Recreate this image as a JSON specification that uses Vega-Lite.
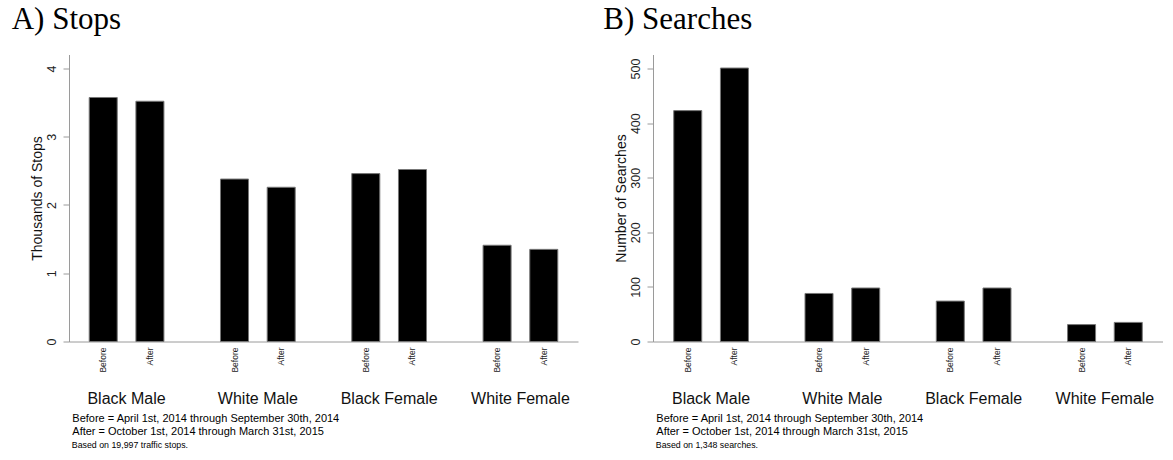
{
  "$schema": "https://vega.github.io/schema/vega-lite/v6.json",
  "background": "white",
  "padding": {"left": 11, "top": 3.5, "right": 0, "bottom": 0},
  "autosize": {"type": "pad"},
  "datasets": {
    "stops": [
      {"group": "Black Male", "period": "Before", "value": 3.575},
      {"group": "Black Male", "period": "After", "value": 3.52},
      {"group": "White Male", "period": "Before", "value": 2.38},
      {"group": "White Male", "period": "After", "value": 2.26},
      {"group": "Black Female", "period": "Before", "value": 2.46},
      {"group": "Black Female", "period": "After", "value": 2.52},
      {"group": "White Female", "period": "Before", "value": 1.41},
      {"group": "White Female", "period": "After", "value": 1.35}
    ],
    "searches": [
      {"group": "Black Male", "period": "Before", "value": 423},
      {"group": "Black Male", "period": "After", "value": 501},
      {"group": "White Male", "period": "Before", "value": 88},
      {"group": "White Male", "period": "After", "value": 98},
      {"group": "Black Female", "period": "Before", "value": 74},
      {"group": "Black Female", "period": "After", "value": 98},
      {"group": "White Female", "period": "Before", "value": 31},
      {"group": "White Female", "period": "After", "value": 35}
    ]
  },
  "config": {
    "view": {"stroke": null},
    "font": "Liberation Sans",
    "axisX": {
      "labelAngle": 0,
      "labelFontSize": 16,
      "labelColor": "#111",
      "labelBaseline": "top",
      "labelPadding": 49,
      "ticks": false,
      "domainColor": "#9a9a9a",
      "domainWidth": 1,
      "titleFontSize": 11,
      "titleFontWeight": "normal",
      "titleColor": "#000",
      "titleAlign": "left",
      "titleBaseline": "top",
      "titleX": 2.8,
      "titleY": 70.5,
      "titleLineHeight": 13.3
    },
    "axisY": {
      "grid": false,
      "format": "d",
      "labelAngle": 270,
      "labelAlign": "center",
      "labelBaseline": "bottom",
      "labelFontSize": 12.5,
      "labelColor": "#222",
      "labelPadding": 5,
      "tickSize": 6,
      "tickColor": "#9a9a9a",
      "domainColor": "#9a9a9a",
      "domainWidth": 1,
      "titleFontSize": 14,
      "titleFontWeight": "normal",
      "titleColor": "#111",
      "titleAngle": 270,
      "titleBaseline": "bottom",
      "titleAlign": "center",
      "titleX": -25
    }
  },
  "spacing": 25,
  "hconcat": [
    {
      "title": {"text": "Based on 19,997 traffic stops.", "orient": "bottom", "anchor": "start", "frame": "group", "font": "Liberation Sans", "fontSize": 8.8, "fontWeight": "normal", "color": "#000", "baseline": "alphabetic", "offset": 11.5, "dx": 2.8},
      "vconcat": [
        {
          "width": 509,
          "height": 287,
          "title": {"text": "A) Stops", "anchor": "start", "frame": "group", "font": "Liberation Serif", "fontSize": 31, "fontWeight": "normal", "color": "#000", "baseline": "alphabetic", "offset": -5.3, "dx": -57.3},
          "data": {"name": "stops"},
          "layer": [
            {
              "mark": {"type": "bar", "color": "#000", "stroke": "#777", "strokeWidth": 1},
              "encoding": {
                "x": {"field": "group", "type": "nominal", "sort": ["Black Male", "White Male", "Black Female", "White Female"], "scale": {"paddingInner": 0.2, "paddingOuter": 0.0385},
                  "axis": {"title": ["Before = April 1st, 2014 through September 30th, 2014", "After = October 1st, 2014 through March 31st, 2015"]}},
                "xOffset": {"field": "period", "type": "nominal", "sort": ["Before", "After"], "scale": {"paddingInner": 0.4, "paddingOuter": 0.3245}},
                "y": {"field": "value", "type": "quantitative", "scale": {"domain": [0, 4.205], "nice": false}, "axis": {"title": "Thousands of Stops", "values": [0, 1, 2, 3, 4]}}
              }
            },
            {
              "mark": {"type": "text", "angle": 270, "align": "right", "baseline": "middle", "dx": -6, "fontSize": 8.5, "color": "#222"},
              "encoding": {
                "x": {"field": "group", "type": "nominal", "sort": ["Black Male", "White Male", "Black Female", "White Female"]},
                "xOffset": {"field": "period", "type": "nominal", "sort": ["Before", "After"]},
                "y": {"datum": 0, "type": "quantitative"},
                "text": {"field": "period"}
              }
            }
          ]
        }
      ]
    },
    {
      "title": {"text": "Based on 1,348 searches.", "orient": "bottom", "anchor": "start", "frame": "group", "font": "Liberation Sans", "fontSize": 8.8, "fontWeight": "normal", "color": "#000", "baseline": "alphabetic", "offset": 11.5, "dx": 2.8},
      "vconcat": [
        {
          "width": 510,
          "height": 287,
          "title": {"text": "B) Searches", "anchor": "start", "frame": "group", "font": "Liberation Serif", "fontSize": 31, "fontWeight": "normal", "color": "#000", "baseline": "alphabetic", "offset": -5.3, "dx": -49.7},
          "data": {"name": "searches"},
          "layer": [
            {
              "mark": {"type": "bar", "color": "#000", "stroke": "#777", "strokeWidth": 1},
              "encoding": {
                "x": {"field": "group", "type": "nominal", "sort": ["Black Male", "White Male", "Black Female", "White Female"], "scale": {"paddingInner": 0.2, "paddingOuter": 0.0425},
                  "axis": {"title": ["Before = April 1st, 2014 through September 30th, 2014", "After = October 1st, 2014 through March 31st, 2015"]}},
                "xOffset": {"field": "period", "type": "nominal", "sort": ["Before", "After"], "scale": {"paddingInner": 0.4, "paddingOuter": 0.3245}},
                "y": {"field": "value", "type": "quantitative", "scale": {"domain": [0, 525.8], "nice": false}, "axis": {"title": "Number of Searches", "values": [0, 100, 200, 300, 400, 500]}}
              }
            },
            {
              "mark": {"type": "text", "angle": 270, "align": "right", "baseline": "middle", "dx": -6, "fontSize": 8.5, "color": "#222"},
              "encoding": {
                "x": {"field": "group", "type": "nominal", "sort": ["Black Male", "White Male", "Black Female", "White Female"]},
                "xOffset": {"field": "period", "type": "nominal", "sort": ["Before", "After"]},
                "y": {"datum": 0, "type": "quantitative"},
                "text": {"field": "period"}
              }
            }
          ]
        }
      ]
    }
  ]
}
